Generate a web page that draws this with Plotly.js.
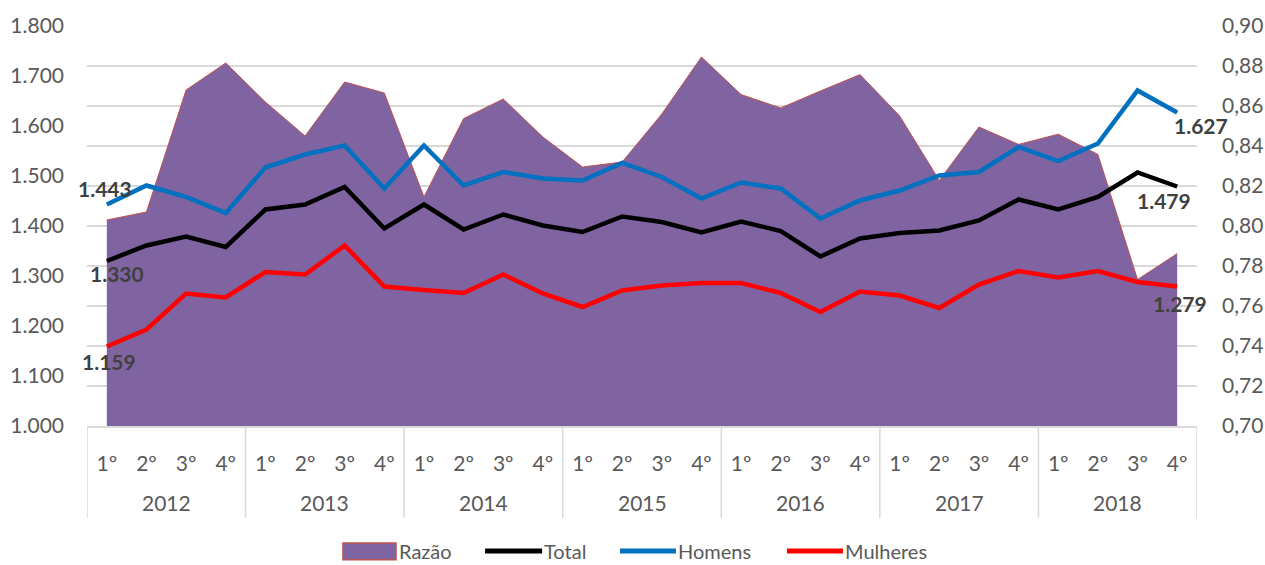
<!DOCTYPE html>
<html>
<head>
<meta charset="utf-8">
<script src="https://cdn.plot.ly/plotly-3.0.1.min.js"></script>
<style>
  html, body { margin: 0; padding: 0; background: #fff; }
  #chart { width: 1265px; height: 565px; }
</style>
</head>
<body>
<div id="chart"></div>
<script>
const years = ['2012', '2013', '2014', '2015', '2016', '2017', '2018'];
const quarters = ['1º', '2º', '3º', '4º'];

const razao = [0.803, 0.807, 0.868, 0.8815, 0.862, 0.845, 0.872, 0.8665,
               0.8145, 0.8537, 0.8635, 0.8445, 0.8295, 0.832, 0.856, 0.8845,
               0.8657, 0.859, 0.8675, 0.8757, 0.855, 0.8228, 0.8495, 0.8408,
               0.8459, 0.8358, 0.7732, 0.7862];
const total = [1330, 1361, 1379, 1358, 1433, 1443, 1478, 1395,
               1443, 1393, 1423, 1401, 1388, 1419, 1408, 1387,
               1409, 1390, 1339, 1375, 1386, 1391, 1411, 1453,
               1433, 1458, 1507, 1479];
const homens = [1443, 1481, 1458, 1426, 1517, 1543, 1561, 1475,
                1561, 1481, 1508, 1495, 1491, 1526, 1498, 1455,
                1487, 1475, 1415, 1451, 1471, 1501, 1508, 1558,
                1530, 1565, 1671, 1627];
const mulheres = [1159, 1193, 1265, 1257, 1308, 1303, 1361, 1279,
                  1272, 1266, 1303, 1265, 1238, 1271, 1281, 1286,
                  1286, 1266, 1228, 1269, 1261, 1236, 1283, 1310,
                  1297, 1310, 1288, 1279];

// category index positions built from the label arrays
const idx = [], qLabels = [];
years.forEach((y, yi) => quarters.forEach((q, qi) => {
  idx.push(yi * quarters.length + qi);
  qLabels.push(q);
}));
const nQ = quarters.length;
const last = idx.length - 1;

function fmt(v) {
  const s = String(Math.round(v));
  return s.length > 3 ? s.slice(0, s.length - 3) + '.' + s.slice(s.length - 3) : s;
}

const FONT = 'Lato, "Open Sans", sans-serif';
const labelFont = { family: FONT, size: 21, color: '#404040', weight: 'bold' };
const tickFont = { family: FONT, size: 21, color: '#595959' };
const GRID = '#D9D9D9';

const series = [
  { name: 'Total', y: total, color: '#000000', firstShift: [10, -12], lastShift: [-13, -14] },
  { name: 'Homens', y: homens, color: '#0070C0', firstShift: [-2, 16], lastShift: [24, -13] },
  { name: 'Mulheres', y: mulheres, color: '#FF0000', firstShift: [2, -15], lastShift: [3, -17] }
];

const traces = [{
  type: 'scatter', mode: 'lines', name: 'Razão', x: idx, y: razao,
  yaxis: 'y', fill: 'tozeroy', fillcolor: '#8064A2',
  line: { color: '#C0504D', width: 1 }, hoverinfo: 'skip'
}];
series.forEach(s => traces.push({
  type: 'scatter', mode: 'lines', name: s.name, x: idx, y: s.y, yaxis: 'y2',
  line: { color: s.color, width: 4.5 }
}));

const annotations = [];
// data labels for first and last values
series.forEach(s => {
  [[0, s.firstShift], [last, s.lastShift]].forEach(([i, sh]) => annotations.push({
    text: fmt(s.y[i]), x: idx[i], y: s.y[i], xref: 'x', yref: 'y2',
    xshift: sh[0], yshift: sh[1], showarrow: false, font: labelFont,
    xanchor: 'center', yanchor: 'middle'
  }));
});
// year group labels
years.forEach((y, yi) => annotations.push({
  text: y, x: yi * nQ + (nQ - 1) / 2, xref: 'x', y: -0.19, yref: 'paper',
  yanchor: 'middle', showarrow: false, font: tickFont
}));

const shapes = [];
for (let k = 0; k <= years.length; k++) {
  shapes.push({
    type: 'line', xref: 'x', yref: 'paper', x0: k * nQ - 0.5, x1: k * nQ - 0.5,
    y0: 0, y1: -0.23, line: { color: GRID, width: 1.5 }
  });
}

// custom legend (paper coordinates, layout only)
const legendY = -0.3125;
const legendItems = [
  { name: 'Razão', kind: 'box', x0: 0.2306, x1: 0.2784, tx: 0.2805 },
  { name: 'Total', kind: 'line', color: '#000000', x0: 0.3586, x1: 0.41, tx: 0.4105 },
  { name: 'Homens', kind: 'line', color: '#0070C0', x0: 0.4802, x1: 0.5306, tx: 0.5315 },
  { name: 'Mulheres', kind: 'line', color: '#FF0000', x0: 0.6306, x1: 0.6811, tx: 0.6820 }
];
legendItems.forEach(it => {
  if (it.kind === 'box') {
    shapes.push({ type: 'rect', xref: 'paper', yref: 'paper', x0: it.x0, x1: it.x1,
      y0: legendY - 0.022, y1: legendY + 0.02, fillcolor: '#8064A2',
      line: { color: '#C0504D', width: 1.5 } });
  } else {
    shapes.push({ type: 'line', xref: 'paper', yref: 'paper', x0: it.x0, x1: it.x1,
      y0: legendY, y1: legendY, line: { color: it.color, width: 5 } });
  }
  annotations.push({ text: it.name, xref: 'paper', yref: 'paper', x: it.tx, y: legendY,
    xanchor: 'left', yanchor: 'middle', showarrow: false, borderpad: 0,
    font: { family: FONT, size: 20, color: '#595959' } });
});

const layout = {
  width: 1265, height: 565,
  margin: { l: 87, r: 68, t: 26, b: 139, autoexpand: false },
  paper_bgcolor: '#ffffff', plot_bgcolor: '#ffffff',
  separators: ',.',
  showlegend: false,
  annotations: annotations,
  shapes: shapes,
  xaxis: {
    range: [-0.5, idx.length - 0.5], tickvals: idx, ticktext: qLabels,
    showline: true, linecolor: GRID, linewidth: 1.5,
    showgrid: false, zeroline: false, ticks: '', tickfont: tickFont,
    ticklabelstandoff: 18, automargin: false
  },
  yaxis: {
    side: 'right', range: [0.70, 0.90], dtick: 0.02, tick0: 0.70,
    tickformat: '.2f', showgrid: true, gridcolor: GRID, gridwidth: 1.5,
    zeroline: false, showline: false, ticks: '', tickfont: tickFont,
    ticklabelstandoff: 24, automargin: false
  },
  yaxis2: {
    overlaying: 'y', side: 'left', range: [1000, 1800], dtick: 100, tick0: 1000,
    tickformat: ',d', showgrid: false, zeroline: false, showline: false, ticks: '',
    tickfont: tickFont, ticklabelstandoff: 22, automargin: false
  }
};

Plotly.newPlot('chart', traces, layout, { displayModeBar: false, staticPlot: true });
</script>
</body>
</html>
